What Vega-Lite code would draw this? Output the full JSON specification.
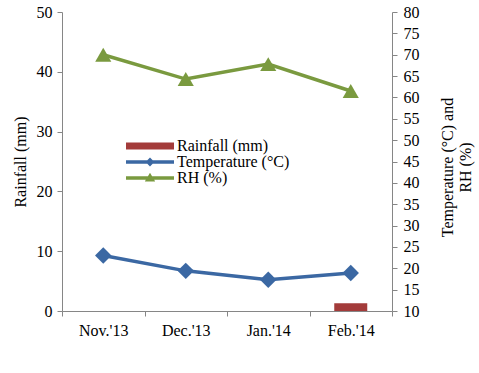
{
  "$schema": "https://vega.github.io/schema/vega-lite/v6.json",
  "width": 330,
  "height": 299,
  "autosize": {"type": "none"},
  "padding": {"left": 62, "top": 12, "right": 87, "bottom": 62},
  "background": "white",
  "config": {
    "view": {"stroke": null},
    "font": "Liberation Serif",
    "axis": {
      "labelFont": "Liberation Serif",
      "titleFont": "Liberation Serif",
      "labelFontSize": 16,
      "titleFontSize": 16,
      "labelFontWeight": 400,
      "titleFontWeight": 400,
      "labelColor": "#000000",
      "titleColor": "#000000",
      "domainColor": "#868686",
      "tickColor": "#868686",
      "grid": false
    }
  },
  "data": {
    "values": [
      {"month": "Nov.'13", "series": "Rainfall (mm)", "value": 0},
      {"month": "Dec.'13", "series": "Rainfall (mm)", "value": 0},
      {"month": "Jan.'14", "series": "Rainfall (mm)", "value": 0},
      {"month": "Feb.'14", "series": "Rainfall (mm)", "value": 1.3},
      {"month": "Nov.'13", "series": "Temperature (°C)", "value": 23.0},
      {"month": "Dec.'13", "series": "Temperature (°C)", "value": 19.4},
      {"month": "Jan.'14", "series": "Temperature (°C)", "value": 17.3},
      {"month": "Feb.'14", "series": "Temperature (°C)", "value": 18.9},
      {"month": "Nov.'13", "series": "RH (%)", "value": 70.0},
      {"month": "Dec.'13", "series": "RH (%)", "value": 64.3},
      {"month": "Jan.'14", "series": "RH (%)", "value": 67.8},
      {"month": "Feb.'14", "series": "RH (%)", "value": 61.5}
    ]
  },
  "encoding": {
    "x": {
      "field": "month",
      "type": "ordinal",
      "sort": ["Nov.'13", "Dec.'13", "Jan.'14", "Feb.'14"],
      "scale": {"paddingInner": 0, "paddingOuter": 0},
      "axis": {"title": null, "labelAngle": 0, "tickBand": "extent", "tickSize": 5, "labelPadding": 6, "labelFont": "Liberation Serif", "labelFontWeight": 400, "labelFontSize": 16}
    }
  },
  "layer": [
    {
      "transform": [{"filter": "datum.series === 'Rainfall (mm)' && datum.value > 0"}],
      "mark": {"type": "bar", "size": 33, "color": "#A33B3A"},
      "encoding": {
        "y": {
          "field": "value",
          "type": "quantitative",
          "scale": {"domain": [0, 50], "nice": false},
          "axis": {"orient": "left", "title": "Rainfall (mm)", "values": [0, 10, 20, 30, 40, 50], "tickSize": 5, "labelPadding": 5, "titlePadding": 8, "labelFont": "Liberation Serif", "labelFontWeight": 400, "labelFontSize": 16}
        }
      }
    },
    {
      "encoding": {
        "y": {
          "field": "value",
          "type": "quantitative",
          "scale": {"domain": [10, 80], "nice": false},
          "axis": {"orient": "right", "title": ["Temperature (°C) and", "RH (%)"], "titleAngle": -90, "titleLineHeight": 18, "titleY": 155, "values": [10, 15, 20, 25, 30, 35, 40, 45, 50, 55, 60, 65, 70, 75, 80], "tickSize": 5, "labelPadding": 6, "titlePadding": 18, "labelFont": "Liberation Serif", "labelFontWeight": 400, "labelFontSize": 16}
        }
      },
      "layer": [
        {
          "transform": [{"filter": "datum.series === 'Temperature (°C)'"}],
          "mark": {"type": "line", "color": "#3B68A3", "strokeWidth": 3.5},
          "encoding": {}
        },
        {
          "transform": [{"filter": "datum.series === 'Temperature (°C)'"}],
          "mark": {"type": "point", "shape": "diamond", "filled": true, "opacity": 1, "color": "#3B68A3", "size": 270},
          "encoding": {}
        },
        {
          "transform": [{"filter": "datum.series === 'RH (%)'"}],
          "mark": {"type": "line", "color": "#7A9A3F", "strokeWidth": 3.5},
          "encoding": {}
        },
        {
          "transform": [{"filter": "datum.series === 'RH (%)'"}],
          "mark": {"type": "point", "shape": "triangle-up", "filled": true, "opacity": 1, "color": "#7A9A3F", "size": 260},
          "encoding": {}
        },
        {
          "transform": [{"filter": "datum.month === 'Nov.\\'13'"}],
          "mark": {"type": "point", "filled": true, "opacity": 0},
          "encoding": {
            "color": {
              "field": "series",
              "type": "nominal",
              "scale": {"domain": ["Rainfall (mm)", "Temperature (°C)", "RH (%)"], "range": ["#A33B3A", "#3B68A3", "#7A9A3F"]},
              "legend": {
                "title": null,
                "orient": "none",
                "legendX": 80,
                "legendY": 126,
                "symbolSize": 64,
                "symbolOpacity": 1,
                "symbolStrokeWidth": 0,
                "labelOffset": 19,
                "labelFont": "Liberation Serif",
                "labelFontSize": 16,
                "labelColor": "black",
                "rowPadding": 0,
                "padding": 0
              }
            },
            "shape": {
              "field": "series",
              "type": "nominal",
              "scale": {"domain": ["Rainfall (mm)", "Temperature (°C)", "RH (%)"], "range": ["M-6,-0.9H6V0.9H-6Z", "M-6,-0.45H6V0.45H-6Z M-1.1,0L0,-1.1L1.1,0L0,1.1Z", "M-6,-0.45H6V0.45H-6Z M-1.3,0.9L0,-1.3L1.3,0.9Z"]},
              "legend": {
                "title": null,
                "orient": "none",
                "legendX": 80,
                "legendY": 126,
                "symbolSize": 64,
                "symbolOpacity": 1,
                "symbolStrokeWidth": 0,
                "labelOffset": 19,
                "labelFontSize": 16,
                "rowPadding": 0,
                "padding": 0
              }
            }
          }
        }
      ]
    }
  ],
  "resolve": {"scale": {"y": "independent"}}
}
